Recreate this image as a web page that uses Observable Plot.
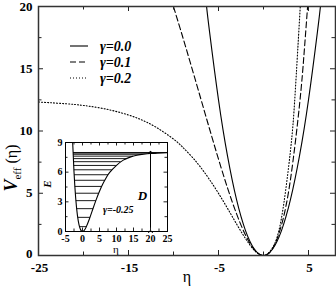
<!DOCTYPE html>
<html><head><meta charset="utf-8">
<script src="https://cdn.jsdelivr.net/npm/d3@7"></script>
<script src="https://cdn.jsdelivr.net/npm/@observablehq/plot@0.6"></script>
<style>
html,body{margin:0;padding:0;background:#fff;}
#chart{position:relative;width:336px;height:286px;overflow:hidden;}
#inset{position:absolute;left:40px;top:135px;}
</style></head><body><div id="chart"><div id="inset"></div></div>
<script>
// ---- data ----
const seriesNames = ["γ=0.0", "γ=0.1", "γ=0.2"];
const eta00 = [-6.33, -6, -5, -4, -3, -2, -1, 0, 1, 2, 3, 4, 5, 6, 6.33];
const veff00 = [20.03, 18, 12.5, 8, 4.5, 2, 0.5, 0, 0.5, 2, 4.5, 8, 12.5, 18, 20.03];
const eta01 = [-10, -9, -8, -7, -6, -5, -4, -3, -2, -1, 0, 1, 2, 3, 4, 4.5, 4.9];
const veff01 = [19.98, 17.61, 15.16, 12.67, 10.18, 7.74, 5.43, 3.36, 1.64, 0.45, 0, 0.55, 2.45, 6.12, 12.09, 16.15, 19.99];
const eta02 = [-25, -22, -20, -18, -16, -14, -12, -10, -9, -8, -7, -6, -5, -4, -3, -2, -1, 0, 1, 2, 3, 3.5, 4.1];
const veff02 = [12.33, 12.19, 12.05, 11.83, 11.50, 11.03, 10.33, 9.35, 8.71, 7.96, 7.10, 6.10, 4.99, 3.79, 2.54, 1.36, 0.41, 0, 0.61, 3.02, 8.45, 12.85, 20.18];

const xTicks = [-25, -15, -5, 5];
const xMinor = [-20, -10, 0];
const yTicks = [0, 5, 10, 15, 20];
const yMinor = [2.5, 7.5, 12.5, 17.5];

// inset: Morse potential, gamma = -0.25
const insetLabel = "γ=-0.25";
const insetEta = [-2.9, -2.5, -2, -1.5, -1, -0.5, 0, 0.5, 1, 2, 3, 4, 5, 6, 7, 8, 10, 12, 14, 16, 18, 20, 22, 25];
const insetE = [9.07, 6.03, 3.37, 1.66, 0.65, 0.14, 0, 0.11, 0.39, 1.24, 2.23, 3.20, 4.07, 4.83, 5.46, 5.98, 6.69, 7.22, 7.52, 7.71, 7.82, 7.89, 7.93, 7.97];
const levelE = [0.49, 1.43, 2.31, 3.12, 3.87, 4.56, 5.18, 5.74, 6.24, 6.68, 7.06, 7.37, 7.62, 7.81, 7.93, 7.99];
const levelLeft = [-0.89, -1.41, -1.72, -1.94, -2.11, -2.25, -2.36, -2.46, -2.53, -2.60, -2.65, -2.69, -2.72, -2.75, -2.76, -2.77];
const levelRight = [1.14, 2.20, 3.08, 3.92, 4.75, 5.62, 6.53, 7.52, 8.59, 9.80, 11.19, 12.84, 14.89, 17.59, 21.7, 25];
const depthD = [{eta: 20, e0: 0, e1: 8}];
const insetXTicks = [-5, 0, 5, 10, 15, 20, 25];
const insetXMinor = [-2.5, 2.5, 7.5, 12.5, 17.5, 22.5];
const insetYTicks = [0, 3, 6, 9];
const insetYMinor = [1.5, 4.5, 7.5];

// ---- build ----
const zip = (a, b) => a.map((v, i) => ({eta: v, v: b[i]}));
const d00 = zip(eta00, veff00), d01 = zip(eta01, veff01), d02 = zip(eta02, veff02);
const styles = [
  {stroke: "black", strokeWidth: 1.1},
  {stroke: "black", strokeWidth: 1.1, strokeDasharray: "6,3"},
  {stroke: "black", strokeWidth: 1.1, strokeDasharray: "1,2"}
];

function inward(xDom, yDom, xs, ys, len) {
  return [
    Plot.ruleX(xs, {y1: yDom[0], y2: yDom[0], insetTop: -len, stroke: "#222"}),
    Plot.ruleX(xs, {y1: yDom[1], y2: yDom[1], insetBottom: -len, stroke: "#222"}),
    Plot.ruleY(ys, {x1: xDom[0], x2: xDom[0], insetRight: -len, stroke: "#222"}),
    Plot.ruleY(ys, {x1: xDom[1], x2: xDom[1], insetLeft: -len, stroke: "#222"})
  ];
}

const xDom = [-25, 8], yDom = [0, 20];
const fmt = d => String(d);
const main = Plot.plot({
  width: 336, height: 286,
  marginLeft: 38, marginRight: 1, marginTop: 6, marginBottom: 31,
  x: {domain: xDom}, y: {domain: yDom},
  style: {fontFamily: "'Liberation Serif', serif", fontSize: "13px", fontWeight: "bold", background: "white", color: "black"},
  marks: [
    Plot.line(d00, {x: "eta", y: "v", curve: "natural", clip: true, ...styles[0]}),
    Plot.line(d01, {x: "eta", y: "v", curve: "natural", clip: true, ...styles[1]}),
    Plot.line(d02, {x: "eta", y: "v", curve: "natural", clip: true, ...styles[2]}),
    ...inward(xDom, yDom, xTicks, yTicks, 5),
    ...inward(xDom, yDom, xMinor, yMinor, 3.5),
    Plot.frame({stroke: "#333", strokeWidth: 1.5}),
    Plot.axisX(xTicks, {tickSize: 0, tickPadding: 7, dx: 1, tickFormat: fmt, label: null}),
    Plot.axisY(yTicks.filter(d => d !== 0), {tickSize: 0, tickPadding: 6, tickFormat: fmt, label: null}),
    Plot.axisY(yTicks.filter(d => d === 0), {tickSize: 0, tickPadding: 6, dy: -2, tickFormat: fmt, label: null})
  ]
});
document.getElementById("chart").prepend(main);

const svg = d3.select(main);
// x-axis title
svg.append("text").attr("x", 187).attr("y", 282).attr("text-anchor", "middle")
  .style("font-weight", "normal").style("font-size", "16px").text("η");
// y-axis title
const yt = svg.append("text").attr("transform", "translate(17,168) rotate(-90)").attr("text-anchor", "middle");
yt.append("tspan").style("font-style", "italic").style("font-size", "18px").text("V");
yt.append("tspan").style("font-weight", "normal").style("font-size", "11px").attr("dy", 4).text("eff");
yt.append("tspan").style("font-weight", "normal").style("font-size", "16px").attr("dy", -4).text(" (η)");
// legend
const lg = svg.append("g");
seriesNames.forEach((name, i) => {
  const y = 46 + i * 16;
  const s = styles[i];
  lg.append("line").attr("x1", 70).attr("x2", 88).attr("y1", y).attr("y2", y)
    .attr("stroke", s.stroke).attr("stroke-width", s.strokeWidth)
    .attr("stroke-dasharray", s.strokeDasharray || null);
  lg.append("text").attr("x", 100).attr("y", y + 4.5).attr("text-anchor", "start")
    .style("font-style", "italic").style("font-size", "14px").text(name);
});

// ---- inset ----
const ixDom = [-5, 25], iyDom = [0, 9];
const curveData = zip(insetEta, insetE);
const levels = levelE.map((e, i) => ({e, a: levelLeft[i], b: levelRight[i]}));
const inset = Plot.plot({
  width: 135, height: 120,
  marginLeft: 25, marginRight: 8, marginTop: 7, marginBottom: 24,
  x: {domain: ixDom}, y: {domain: iyDom},
  style: {fontFamily: "'Liberation Serif', serif", fontSize: "10px", fontWeight: "bold", background: "transparent", color: "black", overflow: "visible"},
  marks: [
    Plot.frame({fill: "white", stroke: null}),
    Plot.link(levels, {x1: "a", x2: "b", y1: "e", y2: "e", stroke: "black", strokeWidth: 0.9, clip: true}),
    Plot.line(curveData, {x: "eta", y: "v", curve: "natural", stroke: "black", strokeWidth: 1.1, clip: true}),
    Plot.link(depthD, {x1: "eta", x2: "eta", y1: "e0", y2: "e1", stroke: "black", strokeWidth: 1, markerStart: "arrow", markerEnd: "arrow"}),
    Plot.text(["D"], {x: 17.6, y: 3.6, text: d => d, fontStyle: "italic", fontSize: 13}),
    Plot.text([insetLabel], {x: 6, y: 2.2, text: d => d, textAnchor: "start", fontStyle: "italic", fontSize: 10}),
    ...inward(ixDom, iyDom, insetXTicks, insetYTicks, 3.5),
    ...inward(ixDom, iyDom, insetXMinor, insetYMinor, 2.5),
    Plot.frame({stroke: "black", strokeWidth: 1}),
    Plot.axisX(insetXTicks, {tickSize: 0, tickPadding: 3, tickFormat: fmt, label: null}),
    Plot.axisY(insetYTicks, {tickSize: 0, tickPadding: 3, tickFormat: fmt, label: null})
  ]
});
document.getElementById("inset").append(inset);
const isvg = d3.select(inset);
isvg.append("text").attr("x", 76).attr("y", 118).attr("text-anchor", "middle")
  .style("font-weight", "normal").style("font-size", "11px").text("η");
isvg.append("text").attr("transform", "translate(11,49) rotate(-90)").attr("text-anchor", "middle")
  .style("font-style", "italic").style("font-size", "11px").text("E");
</script></body></html>
